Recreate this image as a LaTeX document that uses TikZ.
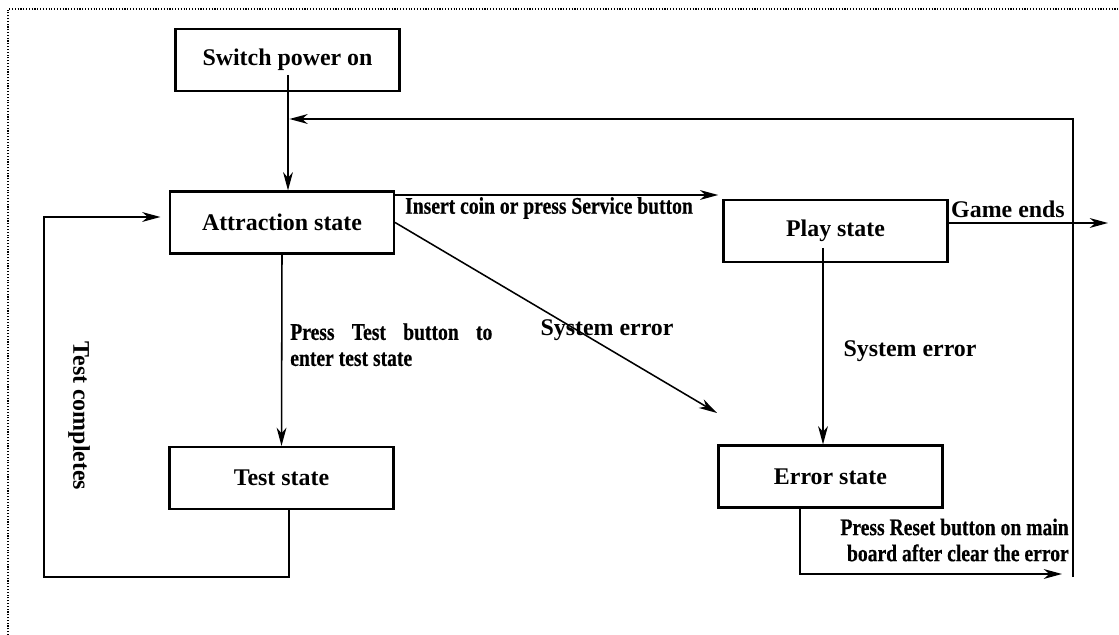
\documentclass[tikz,border=0pt]{standalone}
\usepackage{fontspec}
\setmainfont{Liberation Serif}
\newfontfamily\condfont{Liberation Serif}[FakeStretch=0.82,FakeBold=0.5]
\usetikzlibrary{arrows.meta,calc}

\begin{document}
\begin{tikzpicture}[x=0.025cm,y=-0.025cm,
  font=\fontsize{17}{20}\selectfont\bfseries,
  state/.style={draw,line width=1.5pt,minimum width=5.6cm,minimum height=1.55cm,inner sep=0pt},
  arr/.style={-{Stealth[length=13pt,width=7pt,inset=4pt]},line width=1.1pt},
  lbl/.style={inner sep=0pt},
  cond/.style={font=\condfont\fontsize{17}{18.5}\selectfont\bfseries}]
  \useasboundingbox (0,0) rectangle (1119,635);
  \draw[line width=1pt,dash pattern=on 0.8pt off 1.2pt] (8,635) -- (8,9) -- (1119,9);

  \node[state] (switch) at (287.5,60) {Switch power on};
  \node[state] (attract) at (282,222.5) {Attraction state};
  \node[state] (play) at (835.5,231) {Play state};
  \node[state] (test) at (281.5,478) {Test state};
  \node[state] (error) at (830.5,476.5) {Error state};

  \coordinate (sw) at (288,75);
  \coordinate (ret) at (1073,577);
  \coordinate (rettop) at (1073,119);
  \coordinate (ins) at (0,195);
  \coordinate (diag) at (717,413);
  \coordinate (pl) at (823,248);
  \coordinate (ge) at (1108,223);
  \coordinate (rs) at (800,574);
  \coordinate (rsend) at (1062,574);
  \coordinate (tc) at (289,577);
  \coordinate (tcl) at (44,577);
  \coordinate (tct) at (44,217);

  \draw[arr] (sw) -- (sw |- attract.north);
  \draw[arr,shorten >=1pt] (ret) -- (rettop) -- (sw |- rettop);
  \draw[arr,shorten >=3pt] (attract.east |- ins) -- (play.west |- ins);
  \draw[arr] (attract.east) -- (diag);
  \draw[arr] (pl) -- (error.north -| pl);
  \draw[arr] (play.east |- ge) -- (ge);
  \draw[arr] (rs |- error.south) -- (rs) -- (rsend);
  \draw[arr] (attract.south) -- (test.north);
  \draw[arr,shorten >=6pt] (test.south -| tc) -- (tc) -- (tcl) -- (tct) -- (attract.west |- tct);

  \node[cond,lbl] (inslbl) at (549,208) {Insert coin or press Service button};
  \node[lbl] (gelbl) at (1008,209) {Game ends};
  \node[cond,lbl,align=left,anchor=north west] (testlbl) at (290,323)
    {\makebox[5.05cm][s]{Press Test button to}\\enter test state};
  \node[lbl] (sys1) at (607,330) {System error};
  \node[lbl] (sys2) at (910,351) {System error};
  \node[cond,lbl,align=right,anchor=east] (rstlbl) at (1069,540)
    {Press Reset button on main\\board after clear the error};
  \node[lbl,rotate=-90] (tclbl) at (79,416) {Test completes};
\end{tikzpicture}
\end{document}
